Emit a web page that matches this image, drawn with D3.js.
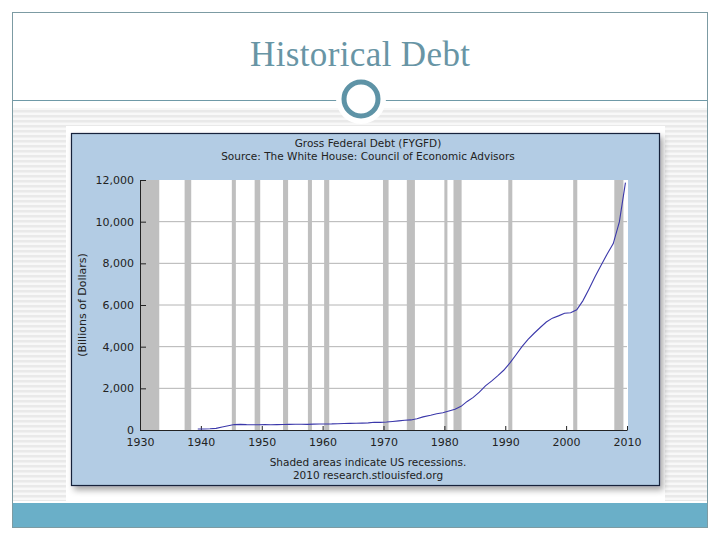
<!DOCTYPE html>
<html>
<head>
<meta charset="utf-8">
<script src="https://cdn.jsdelivr.net/npm/d3@7"></script>
<style>
  body { margin: 0; background: #fff; }
  svg { display: block; }
  .fred text { font-family: "DejaVu Sans", Verdana, sans-serif; font-size: 10.5px; fill: #222; }
</style>
</head>
<body>
<svg id="slide" width="720" height="540"></svg>
<script>
// fiscal years and gross federal debt (billions of dollars)
const fiscalYears = d3.range(1939, 2010);
const debt = [
  48.2, 50.7, 57.5, 79.2, 142.6, 204.1, 260.1, 271.0, 257.1, 252.0,
  252.6, 256.9, 255.3, 259.1, 266.0, 270.8, 274.4, 272.7, 272.3, 279.7,
  287.5, 290.5, 292.6, 302.9, 310.3, 316.1, 322.3, 328.5, 340.4, 368.7,
  365.8, 380.9, 408.2, 435.9, 466.3, 483.9, 541.9, 629.0, 706.4, 776.6,
  829.5, 909.0, 994.8, 1137.3, 1371.7, 1564.6, 1817.4, 2120.5, 2346.0, 2601.1,
  2867.8, 3206.3, 3598.2, 4001.8, 4351.0, 4643.3, 4920.6, 5181.5, 5369.2, 5478.2,
  5605.5, 5628.7, 5769.9, 6198.4, 6760.0, 7354.7, 7905.3, 8451.4, 8950.7, 9986.1,
  11875.9
];

// NBER recessions, start/end months
const recessions = [
  ["1929-08", "1933-03"], ["1937-05", "1938-06"], ["1945-02", "1945-10"],
  ["1948-11", "1949-10"], ["1953-07", "1954-05"], ["1957-08", "1958-04"],
  ["1960-04", "1961-02"], ["1969-12", "1970-11"], ["1973-11", "1975-03"],
  ["1980-01", "1980-07"], ["1981-07", "1982-11"], ["1990-07", "1991-03"],
  ["2001-03", "2001-11"], ["2007-12", "2009-06"]
];

const yTicks = [0, 2000, 4000, 6000, 8000, 10000, 12000];

const parseMonth = d3.timeParse("%Y-%m");
// fiscal year ended June 30 up to 1976, Sept 30 after
const fyEnd = yr => yr <= 1976 ? new Date(yr, 5, 30) : new Date(yr, 8, 30);

const data = fiscalYears.map((yr, i) => ({date: fyEnd(yr), value: debt[i]}));

const svg = d3.select("#slide");
const defs = svg.append("defs");

const pat = defs.append("pattern")
    .attr("id", "stripes")
    .attr("patternUnits", "userSpaceOnUse")
    .attr("width", 8).attr("height", 5);
pat.append("rect").attr("width", 8).attr("height", 5).attr("fill", "#f8f8f8");
pat.append("rect").attr("width", 8).attr("height", 2.5).attr("fill", "#e9e9e9");

const shadow = defs.append("filter").attr("id", "shadow")
    .attr("x", "-5%").attr("y", "-5%").attr("width", "115%").attr("height", "115%");
shadow.append("feDropShadow")
    .attr("dx", 3).attr("dy", 4).attr("stdDeviation", 3)
    .attr("flood-color", "#000").attr("flood-opacity", 0.35);

// slide background
svg.append("rect")
    .attr("x", 12).attr("y", 108).attr("width", 696).attr("height", 393)
    .attr("fill", "url(#stripes)");

svg.append("rect")
    .attr("x", 66).attr("y", 126).attr("width", 599).attr("height", 375)
    .attr("fill", "#fff");

svg.append("rect")
    .attr("x", 12).attr("y", 503).attr("width", 696).attr("height", 25)
    .attr("fill", "#6aafc8");

svg.append("line")
    .attr("x1", 12).attr("x2", 708).attr("y1", 100.5).attr("y2", 100.5)
    .attr("stroke", "#6f9aa8").attr("stroke-width", 1);

svg.append("circle")
    .attr("cx", 361).attr("cy", 99).attr("r", 25)
    .attr("fill", "#fff");
svg.append("circle")
    .attr("cx", 361).attr("cy", 99).attr("r", 17)
    .attr("fill", "#fff").attr("stroke", "#5e93a6").attr("stroke-width", 5);

svg.append("text")
    .attr("x", 360).attr("y", 66)
    .attr("text-anchor", "middle")
    .attr("font-family", "'Liberation Serif', 'Times New Roman', serif")
    .attr("font-size", 35)
    .attr("fill", "#6895a5")
    .attr("textLength", 220)
    .text("Historical Debt");

svg.append("rect")
    .attr("x", 12.5).attr("y", 12.5).attr("width", 695).attr("height", 515)
    .attr("fill", "none").attr("stroke", "#7c9ba3").attr("stroke-width", 1);

// FRED graph
const g = svg.append("g").attr("class", "fred");

g.append("rect")
    .attr("x", 71.5).attr("y", 133.5).attr("width", 588).attr("height", 352)
    .attr("fill", "#b3cce4").attr("stroke", "#14223a").attr("stroke-width", 1.2)
    .attr("filter", "url(#shadow)");

const plotL = 140, plotR = 627, plotT = 180, plotB = 430;

const x = d3.scaleTime()
    .domain([new Date(1930, 0, 1), new Date(2010, 0, 1)])
    .range([plotL, plotR]);

const y = d3.scaleLinear()
    .domain([0, 12000])
    .range([plotB, plotT]);

g.append("rect")
    .attr("x", plotL).attr("y", plotT)
    .attr("width", plotR - plotL + 1).attr("height", plotB - plotT)
    .attr("fill", "#fff");

// grid
g.append("g")
    .selectAll("line")
    .data(yTicks.slice(1, -1))
    .join("line")
    .attr("x1", plotL).attr("x2", plotR)
    .attr("y1", d => y(d)).attr("y2", d => y(d))
    .attr("stroke", "#b4b4b4").attr("stroke-width", 1);

// recession shading
const [d0, d1] = x.domain();
g.append("g")
    .selectAll("rect")
    .data(recessions)
    .join("rect")
    .attr("x", d => x(Math.max(parseMonth(d[0]), d0)))
    .attr("width", d => x(Math.min(parseMonth(d[1]), d1)) - x(Math.max(parseMonth(d[0]), d0)))
    .attr("y", plotT).attr("height", plotB - plotT)
    .attr("fill", "#bfbfbf");

// axes
const yAxis = g.append("g")
    .attr("transform", `translate(${plotL},0)`)
    .call(d3.axisLeft(y).tickValues(yTicks).tickFormat(d3.format(","))
        .tickSize(-6).tickSizeOuter(0).tickPadding(6));

const xAxis = g.append("g")
    .attr("transform", `translate(0,${plotB})`)
    .call(d3.axisBottom(x).ticks(d3.timeYear.every(10)).tickFormat(d3.timeFormat("%Y"))
        .tickSize(-4).tickSizeOuter(0).tickPadding(8));

[yAxis, xAxis].forEach(a => {
    a.select(".domain").attr("stroke", "#222");
    a.selectAll(".tick line").attr("stroke", "#222");
    a.selectAll("text").attr("fill", "#222")
        .style("font-family", "'DejaVu Sans', Verdana, sans-serif").style("font-size", "11px");
});

// series
g.append("path")
    .datum(data)
    .attr("fill", "none")
    .attr("stroke", "#3b38aa")
    .attr("stroke-width", 1.1)
    .attr("d", d3.line().x(d => x(d.date)).y(d => y(d.value)));

// labels
g.append("text").attr("x", 368).attr("y", 147).attr("text-anchor", "middle")
    .text("Gross Federal Debt (FYGFD)");
g.append("text").attr("x", 368).attr("y", 160).attr("text-anchor", "middle")
    .text("Source: The White House: Council of Economic Advisors");
g.append("text")
    .attr("transform", `translate(86,${(plotT + plotB) / 2}) rotate(-90)`)
    .attr("text-anchor", "middle")
    .style("font-size", "11px")
    .text("(Billions of Dollars)");
g.append("text").attr("x", 368).attr("y", 466).attr("text-anchor", "middle")
    .text("Shaded areas indicate US recessions.");
g.append("text").attr("x", 368).attr("y", 479).attr("text-anchor", "middle")
    .text("2010 research.stlouisfed.org");
</script>
</body>
</html>
